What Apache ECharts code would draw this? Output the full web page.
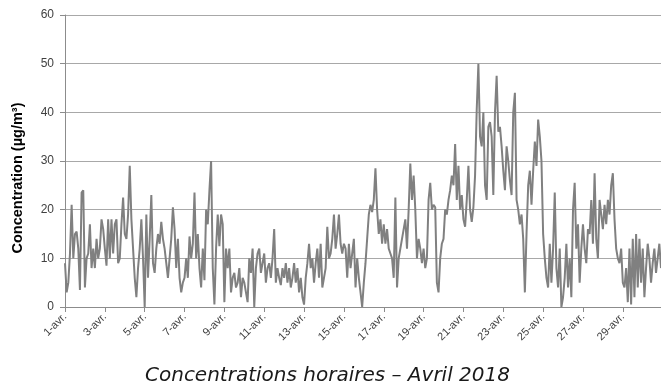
<!DOCTYPE html>
<html>
<head>
<meta charset="utf-8">
<script src="https://cdn.jsdelivr.net/npm/echarts@6/dist/echarts.min.js"></script>
<style>
html,body{margin:0;padding:0;background:#fff;}
#c{width:661px;height:387px;}
</style>
</head>
<body>
<div id="c"></div>
<script>
// Day labels (April 2018)
const days = ['1-avr.','2-avr.','3-avr.','4-avr.','5-avr.','6-avr.','7-avr.','8-avr.','9-avr.','10-avr.',
  '11-avr.','12-avr.','13-avr.','14-avr.','15-avr.','16-avr.','17-avr.','18-avr.','19-avr.','20-avr.',
  '21-avr.','22-avr.','23-avr.','24-avr.','25-avr.','26-avr.','27-avr.','28-avr.','29-avr.','30-avr.'];
// Sampling hours within each day (values read every 2 hours)
const hours = [0, 2, 4, 6, 8, 10, 12, 14, 16, 18, 20, 22];
// Concentrations (µg/m³), 12 readings per day
const conc = [
  9, 3, 5, 11, 21, 10, 15, 15.5, 12, 3.5, 23.5, 24,
  4, 10, 11, 17, 8, 12, 8, 14, 10, 12, 18, 16,
  12, 8.5, 18, 10, 18, 11, 17, 18, 9, 10, 17, 22.5,
  15, 14, 19, 29, 18, 12, 6, 2, 8, 12, 18, 10,
  0, 19, 6, 14, 23, 9, 7, 12, 15, 13, 17.5, 14,
  12, 9, 6, 10, 14, 20.5, 16, 8, 14, 6, 3, 5,
  6, 10, 6, 14.5, 10, 13, 23.5, 10, 15, 8, 4, 12,
  5.5, 20, 17, 24, 30, 8, 0.5, 12, 19, 12.5, 19, 17,
  1, 12, 8, 12, 3, 6, 7, 4, 5, 8, 2, 6,
  5, 3, 1, 10, 7, 12, 0, 8, 11, 12, 7, 9,
  11, 5, 8, 9, 6, 10, 16, 5, 8, 6, 4.5, 8,
  6, 9, 5, 8, 4, 6, 9, 5, 8, 3, 6, 2,
  0.5, 6, 9, 13, 8, 10, 5, 9, 12, 6, 13, 4,
  6, 8, 16.5, 10, 11, 14, 19, 12, 15, 19, 13, 11,
  13, 12, 6, 13, 8, 11, 14, 4, 10, 6, 3, 0,
  5, 9, 14, 19, 21, 19.5, 22, 28.5, 20, 15, 18, 13,
  17, 13, 16, 12, 11, 10, 6, 22.5, 4, 10, 12, 14,
  14, 18, 12, 20, 29.5, 22, 27, 20, 10, 14, 12, 9,
  12, 8, 10, 22, 25.5, 20, 21, 20.5, 5, 3, 10, 13,
  14, 20, 19, 22, 24, 27, 25, 33.5, 22, 29, 20, 23,
  18, 16.5, 22, 29, 20, 17.5, 20.5, 27, 40.5, 50, 35, 33,
  40, 25, 22, 37, 38, 35, 23, 40, 47.5, 36, 37, 33,
  28, 24, 33, 30, 26, 23, 40, 44, 22, 20, 17, 19,
  14, 3, 15, 25, 28, 21, 28, 34, 29, 38.5, 35, 30,
  15, 10, 6, 4, 13, 5, 12, 23.5, 8, 4, 12, 0,
  2, 6, 13, 4, 10, 2, 20, 25.5, 12, 17, 5, 12,
  17, 12, 9, 16, 15, 22, 13, 27.5, 14, 10, 22, 19,
  16, 21, 17, 22, 19, 25, 27.5, 18, 12, 10, 9, 12,
  5, 4, 8, 1, 12, 0.5, 14, 2, 15, 4, 14, 5,
  12, 2, 8, 13, 10, 5, 9, 12, 7, 10, 13, 8
];
const yMin = 0, yMax = 60, yStep = 10;
const titleText = 'Concentrations horaires \u2013 Avril 2018';
const yName = 'Concentration (\u00b5g/m\u00b3)';

const cats = [];
days.forEach(d => hours.forEach(h => cats.push(d + ' ' + h + 'h')));
const perLabel = hours.length * 2; // label every 2 days

const chart = echarts.init(document.getElementById('c'), null, {renderer: 'canvas'});
chart.setOption({
  animation: false,
  title: {
    text: titleText, left: 140, top: 361,
    textStyle: {fontFamily: 'DejaVu Sans', fontStyle: 'italic', fontWeight: 'normal', fontSize: 20, color: '#1a1a1a'}
  },
  graphic: [{
    type: 'text', x: 18, y: 178, rotation: Math.PI / 2,
    style: {
      text: yName, textAlign: 'center', textVerticalAlign: 'middle',
      font: 'bold 14.5px "Liberation Sans"', fill: '#000'
    }
  }],
  grid: {left: 65, top: 15, bottom: 80, right: -9, containLabel: false},
  xAxis: {
    type: 'category', data: cats, boundaryGap: false,
    axisLine: {lineStyle: {color: '#8c8c8c', width: 1}},
    axisTick: {show: true, length: 5, interval: i => i % perLabel === 0, lineStyle: {color: '#8c8c8c'}},
    axisLabel: {
      interval: i => i % perLabel === 0, rotate: 45, margin: 8,
      formatter: v => v.split(' ')[0],
      fontFamily: 'Liberation Sans', fontSize: 11, color: '#404040'
    },
    splitLine: {show: false}
  },
  yAxis: {
    type: 'value', min: yMin, max: yMax, interval: yStep,
    axisLine: {show: true, lineStyle: {color: '#8c8c8c', width: 1}},
    axisTick: {show: true, length: 5, lineStyle: {color: '#8c8c8c'}},
    axisLabel: {margin: 11, fontFamily: 'Liberation Sans', fontSize: 12, color: '#404040'},
    splitLine: {show: true, lineStyle: {color: '#a8a8a8', width: 1}}
  },
  series: [{
    type: 'line', data: conc, showSymbol: false,
    lineStyle: {color: '#808080', width: 2},
    itemStyle: {color: '#808080'}
  }]
});
</script>
</body>
</html>
